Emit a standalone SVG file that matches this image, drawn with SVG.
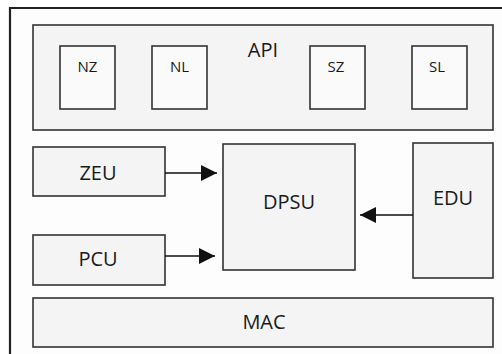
<svg xmlns="http://www.w3.org/2000/svg" width="502" height="354" viewBox="0 0 502 354">
<style>
.box{fill:#f4f4f4;stroke:#333;stroke-width:1.6}
.sm{fill:#fafafa;stroke:#333;stroke-width:1.6}
.lbl{font-family:"Open Sans","Liberation Sans",sans-serif;font-size:20px;fill:#1a1a1a;text-anchor:middle}
.slbl{font-family:"Open Sans","Liberation Sans",sans-serif;font-size:15px;fill:#1a1a1a;text-anchor:middle}
.conn{stroke:#111;stroke-width:1.5;fill:none}
</style>
<defs>
<marker id="ah" markerWidth="16" markerHeight="16" refX="16" refY="8" orient="auto" markerUnits="userSpaceOnUse">
<path d="M0,0 L16,8 L0,16 Z" fill="#111"/>
</marker>
</defs>
<rect x="0" y="0" width="502" height="354" fill="#fff"/>
<rect x="10" y="8" width="492" height="346" fill="#fdfdfd"/>
<path id="frame" d="M10,354 V8 H502" fill="none" stroke="#222" stroke-width="2.2"/>
<g id="API">
<rect class="box" x="33" y="25" width="460" height="105"/>
<text class="lbl" x="263" y="56.5">API</text>
</g>
<g id="NZ"><rect class="sm" x="60" y="46" width="55" height="63"/><text class="slbl" x="87.5" y="72">NZ</text></g>
<g id="NL"><rect class="sm" x="152" y="46" width="55" height="63"/><text class="slbl" x="179.5" y="72">NL</text></g>
<g id="SZ"><rect class="sm" x="310" y="46" width="55" height="63"/><text class="slbl" x="336" y="72">SZ</text></g>
<g id="SL"><rect class="sm" x="412" y="46" width="55" height="63"/><text class="slbl" x="437" y="72">SL</text></g>
<g id="ZEU"><rect class="box" x="33" y="147" width="132" height="49"/><text class="lbl" x="98" y="179.5">ZEU</text></g>
<g id="PCU"><rect class="box" x="33" y="235" width="132" height="50"/><text class="lbl" x="98" y="266">PCU</text></g>
<g id="DPSU"><rect class="box" x="223" y="144" width="132" height="126"/><text class="lbl" x="289" y="209">DPSU</text></g>
<g id="EDU"><rect class="box" x="413" y="143" width="80" height="135"/><text class="lbl" x="453" y="205">EDU</text></g>
<g id="MAC"><rect class="box" x="33" y="298" width="460" height="49"/><text class="lbl" x="264" y="329">MAC</text></g>
<g id="connectors">
<line class="conn" x1="165" y1="173" x2="217" y2="173" marker-end="url(#ah)"/>
<line class="conn" x1="165" y1="256" x2="215" y2="256" marker-end="url(#ah)"/>
<line class="conn" x1="413" y1="215" x2="360" y2="215" marker-end="url(#ah)"/>
</g>
</svg>
